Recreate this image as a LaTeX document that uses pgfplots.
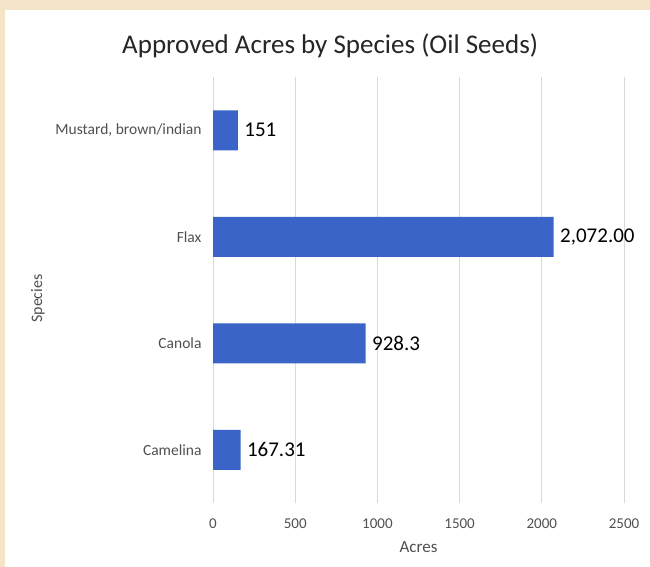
\documentclass[border=0pt]{standalone}
\usepackage{pgfplots}
\pgfplotsset{compat=1.18}
\usepackage{fontspec}
\setmainfont{Carlito}
\definecolor{beige}{HTML}{F5E4C8}
\definecolor{barblue}{HTML}{3A64C8}
\definecolor{gridgray}{HTML}{D9D9D9}
\definecolor{txtgray}{HTML}{505050}
\begin{document}
\begin{tikzpicture}[x=1pt,y=1pt]
\useasboundingbox (0,0) rectangle (650,567);
\fill[beige] (0,0) rectangle (650,567);
\fill[white] (5,0) rectangle (650,557);
\begin{axis}[
  at={(213pt,64pt)}, anchor=south west,
  scale only axis, width=411pt, height=426pt,
  xbar, bar width=40pt,
  xmin=0, xmax=2500,
  ymin=-0.5, ymax=3.5, y dir=reverse,
  xtick={0,500,1000,1500,2000,2500},
  ytick={0,1,2,3},
  yticklabels={{Mustard, brown/indian},Flax,Canola,Camelina},
  axis line style={draw=none},
  major tick length=0pt,
  xmajorgrids, grid style={gridgray, line width=0.8pt},
  /pgf/number format/assume math mode=true,
  /pgf/number format/1000 sep={},
  xticklabel style={font=\fontsize{15}{17}\selectfont, text=txtgray, yshift=-12pt},
  yticklabel style={font=\fontsize{15.5}{17}\selectfont, text=txtgray, xshift=-8pt},
  xlabel={Acres},
  xlabel style={at={(axis description cs:0.5,-0.103)}, anchor=center, font=\fontsize{17}{19}\selectfont, text=txtgray},
  ylabel={Species},
  ylabel style={at={(axis description cs:-0.426,0.48)}, anchor=center, font=\fontsize{16}{18}\selectfont, text=txtgray},
  title={Approved Acres by Species (Oil Seeds)},
  title style={at={(axis description cs:0.285,1)}, anchor=center, yshift=25pt, font=\fontsize{27}{31}\selectfont, text=black!85},
  nodes near coords,
  point meta=explicit symbolic,
  every node near coord/.append style={font=\fontsize{21}{24}\selectfont, text=black, anchor=west, xshift=3pt},
]
\addplot[fill=barblue, draw=none] coordinates {
  (151,0) [151]
  (2072,1) [{2,072.00}]
  (928.3,2) [928.3]
  (167.31,3) [167.31]
};
\end{axis}
\end{tikzpicture}
\end{document}
